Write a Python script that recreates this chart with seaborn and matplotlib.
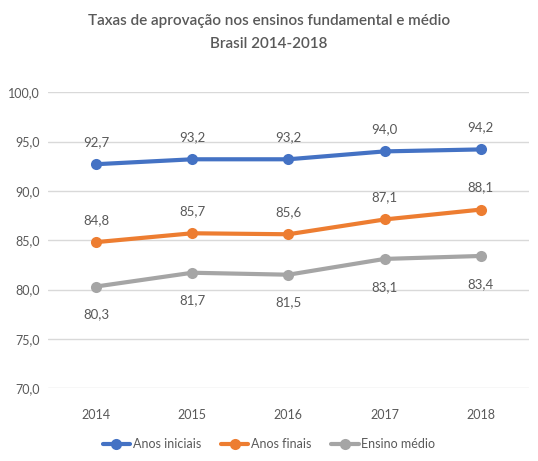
import matplotlib
matplotlib.use("Agg")
import matplotlib.pyplot as plt
import seaborn as sns
import pandas as pd

years = ["2014", "2015", "2016", "2017", "2018"]
anos_iniciais = [92.7, 93.2, 93.2, 94.0, 94.2]
anos_finais = [84.8, 85.7, 85.6, 87.1, 88.1]
ensino_medio = [80.3, 81.7, 81.5, 83.1, 83.4]
series_names = ["Anos iniciais", "Anos finais", "Ensino médio"]
y_ticks = [70.0, 75.0, 80.0, 85.0, 90.0, 95.0, 100.0]

sns.set_style("white")
plt.rcParams["font.family"] = ["Lato", "DejaVu Sans"]

df = pd.DataFrame({
    "Ano": years * 3,
    "Taxa": anos_iniciais + anos_finais + ensino_medio,
    "Série": [s for s in series_names for _ in years],
})

colors = {"Anos iniciais": "#4472C4", "Anos finais": "#ED7D31", "Ensino médio": "#A5A5A5"}
text_color = "#595959"

fig = plt.figure(figsize=(5.38, 4.61), dpi=100)
ax = fig.add_axes([0.089, 0.158, 0.894, 0.642])

sns.lineplot(data=df, x="Ano", y="Taxa", hue="Série", palette=colors,
             marker="o", markersize=8, markeredgewidth=0, linewidth=3,
             sort=False, ax=ax)

ax.set_xlim(-0.5, 4.5)
ax.set_ylim(70, 100)
ax.set_yticks(y_ticks)
ax.set_yticklabels([f"{v:.1f}".replace(".", ",") for v in y_ticks])
ax.yaxis.grid(True, color="#D9D9D9", linewidth=1)
ax.set_axisbelow(True)
for s in ax.spines.values():
    s.set_visible(False)
ax.tick_params(axis="x", length=0, labelsize=9, colors=text_color, pad=15)
ax.tick_params(axis="y", length=0, labelsize=9, colors=text_color, pad=6)
ax.set_xlabel("")
ax.set_ylabel("")

# value labels: above for the first two series, below for the third
offsets = {"Anos iniciais": 16, "Anos finais": 16, "Ensino médio": -20}
for name, vals in zip(series_names, [anos_iniciais, anos_finais, ensino_medio]):
    for i, v in enumerate(vals):
        ax.annotate(f"{v:.1f}".replace(".", ","), (i, v), xytext=(0, offsets[name]),
                    textcoords="offset points", ha="center", va="center",
                    fontsize=9.5, color=text_color)

fig.text(0.5, 0.955, "Taxas de aprovação nos ensinos fundamental e médio",
         ha="center", va="center", fontsize=11, fontweight="semibold", color=text_color)
fig.text(0.5, 0.905, "Brasil 2014-2018",
         ha="center", va="center", fontsize=11, fontweight="semibold", color=text_color)

handles, labels = ax.get_legend_handles_labels()
ax.legend(handles, labels, loc="center", ncol=3, frameon=False, fontsize=9,
          handlelength=2.2, columnspacing=1.6, handletextpad=0.2,
          labelcolor=text_color)
ax.get_legend().set_bbox_to_anchor((0.5, 0.037), transform=fig.transFigure)

fig.savefig("out.png", dpi=100, facecolor="white")
